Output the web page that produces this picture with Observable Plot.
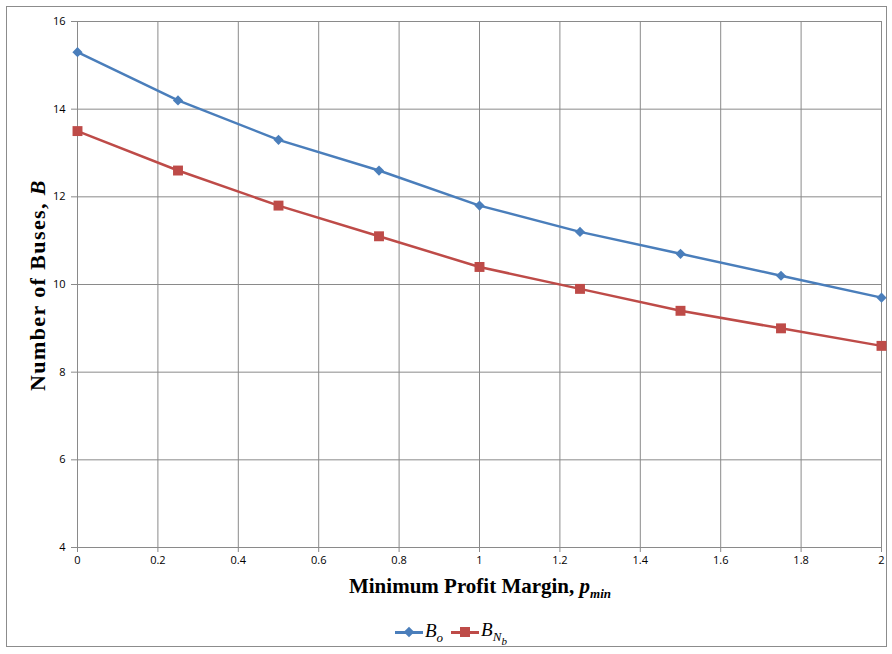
<!DOCTYPE html>
<html><head><meta charset="utf-8">
<script src="https://cdn.jsdelivr.net/npm/d3@7"></script>
<script src="https://cdn.jsdelivr.net/npm/@observablehq/plot@0.6"></script>
<style>
body{margin:0;background:#fff;}
#wrap{position:relative;width:892px;height:654px;font-family:"Open Sans",sans-serif;}
#frame{position:absolute;left:6px;top:6px;width:881px;height:641px;border:1px solid #8c8c8c;box-sizing:border-box;}
#chart{position:absolute;left:0;top:0;}
#xlabel{position:absolute;left:0;width:960px;top:574px;text-align:center;font:bold 21px "Liberation Serif","DejaVu Serif",serif;color:#000;}
#ylabel{position:absolute;left:38px;top:285px;transform:translate(-50%,-50%) rotate(-90deg);white-space:nowrap;font:bold 22px "Liberation Serif","DejaVu Serif",serif;letter-spacing:1.4px;}
#legend{position:absolute;top:619px;left:395px;display:flex;align-items:center;font:italic 19px "Liberation Serif","DejaVu Serif",serif;}
.sw{display:inline-block;position:relative;width:28px;height:3px;margin-right:2px;}
.sw i{position:absolute;left:9px;top:-4px;width:10px;height:10px;}
sub{font-size:13px;}
</style></head>
<body>
<div id="wrap">
<div id="frame"></div>
<div id="chart"></div>
<div id="xlabel">Minimum Profit Margin, <i>p<sub>min</sub></i></div>
<div id="ylabel">Number of Buses, <i>B</i></div>
<div id="legend">
<span class="sw" style="background:#4a7ebb"><i style="background:#4a7ebb;transform:rotate(45deg) scale(0.75)"></i></span><span style="margin-right:8px">B<sub>o</sub></span>
<span class="sw" style="background:#be4b48"><i style="background:#be4b48"></i></span><span>B<sub>N<sub style="font-size:11px">b</sub></sub></span>
</div>
</div>
<script>
const pMin = [0, 0.25, 0.5, 0.75, 1, 1.25, 1.5, 1.75, 2];
const busesO = [15.3, 14.2, 13.3, 12.6, 11.8, 11.2, 10.7, 10.2, 9.7];
const busesNb = [13.5, 12.6, 11.8, 11.1, 10.4, 9.9, 9.4, 9.0, 8.6];
const xTicks = [0, 0.2, 0.4, 0.6, 0.8, 1, 1.2, 1.4, 1.6, 1.8, 2];
const yTicks = [4, 6, 8, 10, 12, 14, 16];
const seriesNames = ["Bo", "BNb"];
const colors = ["#4a7ebb", "#be4b48"];

const rowsO = pMin.map((p, i) => ({p, b: busesO[i], s: seriesNames[0]}));
const rowsNb = pMin.map((p, i) => ({p, b: busesNb[i], s: seriesNames[1]}));

const chart = Plot.plot({
  width: 892, height: 600,
  marginLeft: 77, marginRight: 11, marginTop: 21, marginBottom: 53,
  style: {fontFamily: "'Open Sans', sans-serif", fontSize: "11px", color: "#000"},
  x: {domain: [0, 2], ticks: xTicks, tickFormat: d => String(d), label: null},
  y: {domain: [4, 16], ticks: yTicks, label: null},
  marks: [
    Plot.gridX(xTicks, {stroke: "#8a8a8a", strokeOpacity: 1, strokeWidth: 1}),
    Plot.gridY(yTicks, {stroke: "#8a8a8a", strokeOpacity: 1, strokeWidth: 1}),
    Plot.axisY({ticks: yTicks, tickSize: 6, tickPadding: 6, stroke: "#8a8a8a", label: null}),
    Plot.axisX({ticks: xTicks, tickSize: 5, tickPadding: 4, stroke: "#8a8a8a", label: null, tickFormat: d => String(d)}),
    Plot.line(rowsO, {x: "p", y: "b", stroke: colors[0], strokeWidth: 2.5}),
    Plot.line(rowsNb, {x: "p", y: "b", stroke: colors[1], strokeWidth: 2.5}),
    Plot.dot(rowsO, {x: "p", y: "b", symbol: "diamond2", r: 4.6, fill: colors[0], stroke: "none"}),
    Plot.dot(rowsNb, {x: "p", y: "b", symbol: "square", r: 5.6, fill: colors[1], stroke: "none"})
  ]
});
document.getElementById("chart").appendChild(chart);
</script>
</body></html>
